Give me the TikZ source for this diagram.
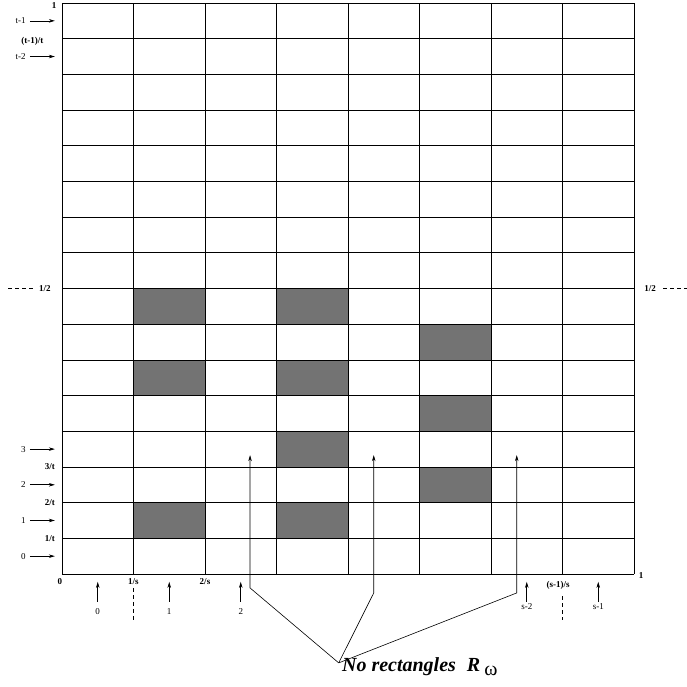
\documentclass[tikz,border=0pt]{standalone}
\usepackage{fontspec}
\setmainfont{Liberation Serif}
\usetikzlibrary{arrows.meta}

\begin{document}
\begin{tikzpicture}[x=71.5pt,y=35.6875pt,line width=0.7pt,
    lab/.style={font=\bfseries\fontsize{9}{10}\selectfont,inner sep=1pt},
    idx/.style={font=\fontsize{9}{10}\selectfont,inner sep=1pt},
    ptr/.style={-{Stealth[length=6pt,width=3.5pt]},line width=0.6pt},
    cell/.style={fill=black!55,draw=black}]
    \useasboundingbox (-0.867,-3.138) rectangle (8.741,16.084);

    % Shaded cells first, grid on top
    \foreach \c/\r in {1/1,1/5,1/7,3/1,3/3,3/5,3/7,5/2,5/4,5/6}
        \filldraw[cell] (\c,\r) rectangle ++(1,1);
    \foreach \i in {0,...,8}
        \draw (\i,0) -- (\i,16);
    \foreach \j in {0,...,16}
        \draw (0,\j) -- (8,\j);

    % Row indices with arrows
    \foreach \k/\n/\y in {a/0/0.5,b/1/1.5,c/2/2.5,d/3/3.5,e/t-2/14.5,f/t-1/15.5} {
        \node[idx,anchor=east] (r\k) at (-0.49,\y) {\n};
        \coordinate (r\k tip) at (-0.1,\y);
        \draw[ptr,shorten <=3pt] (r\k.east) -- (r\k tip);
    }

    % Row values
    \node[lab,anchor=east] (t1) at (-0.08,1) {1/t};
    \node[lab,anchor=east] (t2) at (-0.08,2) {2/t};
    \node[lab,anchor=east] (t3) at (-0.08,3) {3/t};
    \node[lab,anchor=east] (tt) at (-0.24,14.93) {(t-1)/t};
    \node[lab,anchor=east] (top) at (-0.06,15.93) {1};

    % The half line on both sides
    \node[lab,anchor=east] (halfL) at (-0.14,8) {1/2};
    \coordinate (halfLend) at (-0.755,8);
    \draw[dashed,dash pattern=on 4pt off 3pt,shorten >=5pt] (halfLend) -- (halfL.west);
    \node[lab,anchor=west] (halfR) at (8.126,8) {1/2};
    \coordinate (halfRend) at (8.741,8);
    \draw[dashed,dash pattern=on 4pt off 3pt,shorten <=6pt] (halfR.east) -- (halfRend);

    % Column values
    \node[lab] (s0) at (-0.03,-0.2) {0};
    \node[lab] (s1) at (1,-0.2) {1/s};
    \node[lab] (s2) at (2,-0.2) {2/s};
    \node[lab] (ss) at (6.94,-0.31) {(s-1)/s};
    \node[lab] (s9) at (8.1,-0.03) {1};
    \coordinate (s1end) at (1,-1.29);
    \coordinate (ssend) at (7,-1.29);
    \draw[dashed,dash pattern=on 4pt off 3pt] (1,-0.39) -- (s1end);
    \draw[dashed,dash pattern=on 4pt off 3pt] (7,-0.62) -- (ssend);

    % Column indices with arrows
    \foreach \k/\n/\x/\y in {a/0/0.5/-1.06,b/1/1.5/-1.06,c/2/2.5/-1.06,d/s-2/6.5/-0.92,e/s-1/7.5/-0.92} {
        \node[idx] (c\k) at (\x,\y) {\n};
        \coordinate (c\k tip) at (\x,-0.22);
        \draw[ptr] (\x,-0.78) -- (c\k tip);
    }

    % Pointers to the empty columns
    \coordinate (meet) at (3.87,-2.49);
    \coordinate (bendA) at (2.63,-0.39);
    \coordinate (bendB) at (4.36,-0.53);
    \coordinate (bendC) at (6.36,-0.53);
    \coordinate (tipA) at (2.63,3.33);
    \coordinate (tipB) at (4.36,3.33);
    \coordinate (tipC) at (6.36,3.33);
    \draw[ptr] (meet) -- (bendA) -- (tipA);
    \draw[ptr] (meet) -- (bendB) -- (tipB);
    \draw[ptr] (meet) -- (bendC) -- (tipC);
    \node[anchor=base west,inner sep=0pt,font=\fontsize{20}{22}\selectfont] (note)
        at ([xshift=3pt,yshift=-9pt]meet)
        {\textbf{\textit{No rectangles}}\hspace{11pt}\textbf{\textit{R}}\hspace{4pt}\raisebox{-4pt}{ω}};
\end{tikzpicture}
\end{document}
